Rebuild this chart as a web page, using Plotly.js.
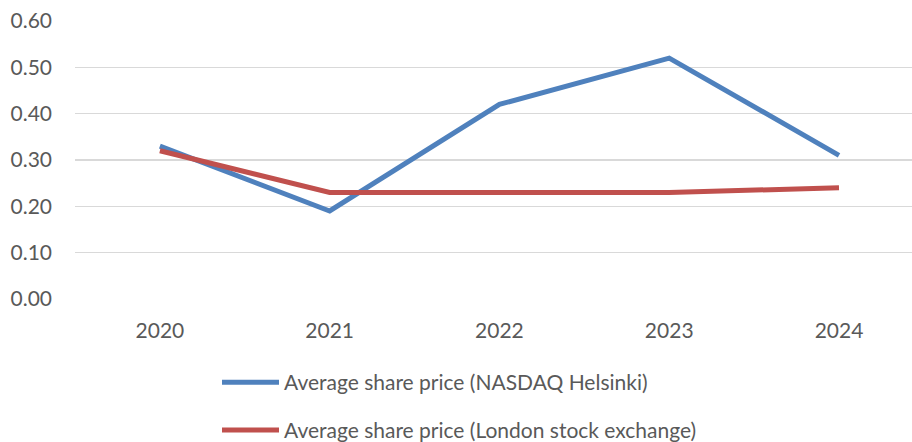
<!DOCTYPE html>
<html><head><meta charset="utf-8">
<script src="https://cdn.plot.ly/plotly-3.0.1.min.js"></script>
<style>html,body{margin:0;padding:0;background:#fff;overflow:hidden}#chart{width:912px;height:442px}</style>
</head><body><div id="chart"></div>
<script>
const years = ['2020','2021','2022','2023','2024'];
const helsinki = [0.33, 0.19, 0.42, 0.52, 0.31];
const london = [0.32, 0.23, 0.23, 0.23, 0.24];
const seriesNames = ['Average share price (NASDAQ Helsinki)', 'Average share price (London stock exchange)'];
const yTicks = [0, 0.1, 0.2, 0.3, 0.4, 0.5, 0.6];

const font = {family: 'Lato, "Open Sans", sans-serif', size: 21, color: '#595959'};
const traces = [
  {x: years, y: helsinki, name: seriesNames[0], type: 'scatter', mode: 'lines',
   line: {color: '#4F81BD', width: 5}, legend: 'legend'},
  {x: years, y: london, name: seriesNames[1], type: 'scatter', mode: 'lines',
   line: {color: '#C0504D', width: 5}, legend: 'legend2'}
];
const layout = {
  width: 912, height: 442,
  margin: {l: 75, r: 0, t: 21, b: 143, autoexpand: false},
  paper_bgcolor: '#fff', plot_bgcolor: '#fff',
  font: font,
  showlegend: true,
  xaxis: {type: 'category', range: [-0.5, 4.43], showgrid: false, zeroline: false,
    showline: false, ticks: '', ticklabelstandoff: 17, tickfont: font, fixedrange: true},
  yaxis: {range: [0, 0.6], tickvals: yTicks, ticktext: yTicks.map(v => v.toFixed(2)),
    showgrid: true, gridcolor: '#d9d9d9', gridwidth: 1.3, zeroline: false, showline: false,
    ticks: '', ticklabelstandoff: 22, tickfont: font, fixedrange: true},
  legend: {x: (217-75)/837, xanchor: 'left', y: -0.227, yanchor: 'top', font: font,
    bgcolor: 'rgba(0,0,0,0)', itemwidth: 57},
  legend2: {x: (217-75)/837, xanchor: 'left', y: -0.399, yanchor: 'top', font: font,
    bgcolor: 'rgba(0,0,0,0)', itemwidth: 57}
};
Plotly.newPlot('chart', traces, layout, {displayModeBar: false, staticPlot: true});
</script></body></html>
